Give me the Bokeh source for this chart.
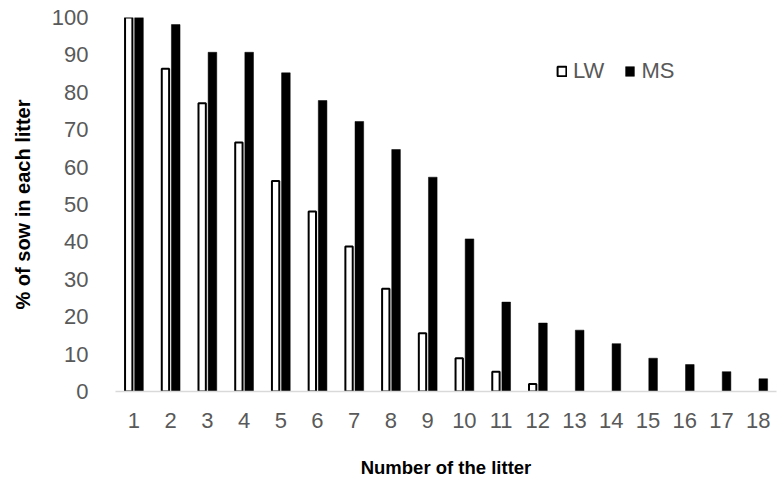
from bokeh.plotting import figure
from bokeh.models import ColumnDataSource, Legend, LegendItem, FixedTicker, Range1d
from bokeh.embed import file_html
from bokeh.resources import INLINE

litters = list(range(1, 19))
lw_litters = list(range(1, 13))
lw_values = [100, 86.3, 77.1, 66.6, 56.3, 48.1, 38.8, 27.5, 15.6, 8.9, 5.3, 2.0]
ms_values = [100, 98.1, 90.7, 90.7, 85.2, 77.8, 72.2, 64.7, 57.3, 40.8, 23.9, 18.3,
             16.4, 12.8, 8.9, 7.2, 5.3, 3.4]
y_ticks = [0, 10, 20, 30, 40, 50, 60, 70, 80, 90, 100]
x_title = "Number of the litter"
y_title = "% of sow in each litter"

FONT = "Liberation Sans"
GRAY = "#595959"

p = figure(width=777, height=484, output_backend="svg", toolbar_location=None,
           x_range=Range1d(0.5, 18.5), y_range=Range1d(0, 100),
           min_border_left=115, min_border_right=1, min_border_top=17, min_border_bottom=93)
p.outline_line_color = None
p.grid.grid_line_color = None

lw_src = ColumnDataSource(dict(x=[v - 0.14 for v in lw_litters], top=lw_values))
ms_src = ColumnDataSource(dict(x=[v + 0.14 for v in litters], top=ms_values))

r_lw = p.vbar(x="x", top="top", width=0.2, bottom=0, source=lw_src,
              fill_color="white", line_color="black", line_width=2)
r_ms = p.vbar(x="x", top="top", width=0.235, bottom=0, source=ms_src,
              fill_color="black", line_color="black", line_width=0.5)

# x axis
xa = p.xaxis[0]
xa.ticker = FixedTicker(ticks=litters)
xa.axis_line_color = "#D9D9D9"
xa.axis_line_width = 1.5
xa.major_tick_line_color = None
xa.minor_tick_line_color = None
xa.major_label_text_font = FONT
xa.major_label_text_font_size = "22px"
xa.major_label_text_color = GRAY
xa.major_label_standoff = 15
xa.axis_label = x_title
xa.axis_label_text_font = FONT
xa.axis_label_text_font_style = "bold"
xa.axis_label_text_font_size = "18.5px"
xa.axis_label_text_color = "black"
xa.axis_label_standoff = 26

ya = p.yaxis[0]
ya.ticker = FixedTicker(ticks=y_ticks)
ya.axis_line_color = None
ya.major_tick_line_color = None
ya.minor_tick_line_color = None
ya.major_label_text_font = FONT
ya.major_label_text_font_size = "22px"
ya.major_label_text_color = GRAY
ya.major_label_standoff = 21
ya.axis_label = y_title
ya.axis_label_text_font = FONT
ya.axis_label_text_font_style = "bold"
ya.axis_label_text_font_size = "20px"
ya.axis_label_text_color = "black"
ya.axis_label_standoff = 15

legend = Legend(items=[LegendItem(label="LW", renderers=[r_lw]),
                       LegendItem(label="MS", renderers=[r_ms])],
                orientation="horizontal", location=(441, 307),
                glyph_width=11, glyph_height=12, label_standoff=6, spacing=20,
                padding=0, margin=0, border_line_color=None, background_fill_alpha=0,
                label_text_font=FONT, label_text_font_size="22px",
                label_text_color=GRAY, label_height=22)
p.add_layout(legend)

open("out.html", "w").write(file_html(p, INLINE))
